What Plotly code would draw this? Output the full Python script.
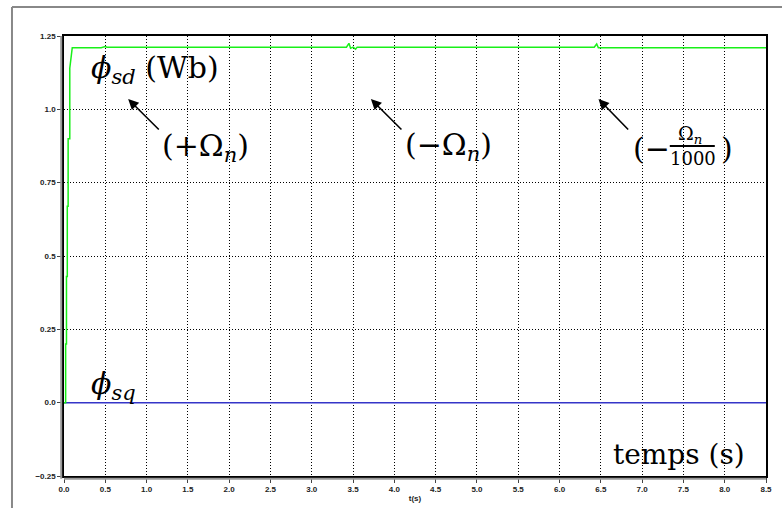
import plotly.graph_objects as go

# Data
t_sd = [0.0, 0.02, 0.02, 0.03, 0.03, 0.04, 0.04, 0.05, 0.05, 0.07, 0.07, 0.10, 0.45, 0.50, 0.52, 0.56, 3.42, 3.45, 3.47, 3.50, 3.53, 3.55, 3.58, 6.42, 6.45, 6.47, 8.5]
phi_sd = [0.0, 0.0, 0.20, 0.20, 0.43, 0.43, 0.67, 0.67, 0.90, 0.90, 1.14, 1.21, 1.21, 1.214, 1.212, 1.212, 1.212, 1.225, 1.208, 1.212, 1.205, 1.212, 1.212, 1.212, 1.223, 1.21, 1.21]
t_sq = [0.0, 8.5]
phi_sq = [0.0, 0.0]

x_ticks = [0.0, 0.5, 1.0, 1.5, 2.0, 2.5, 3.0, 3.5, 4.0, 4.5, 5.0, 5.5, 6.0, 6.5, 7.0, 7.5, 8.0, 8.5]
x_labels = ["%.1f" % v for v in x_ticks]
y_ticks = [-0.25, 0.0, 0.25, 0.5, 0.75, 1.0, 1.25]
y_labels = ["\u22120.25", "0.0", "0.25", "0.5", "0.75", "1.0", "1.25"]

fig = go.Figure()
fig.add_trace(go.Scatter(x=t_sq, y=phi_sq, mode="lines",
                         line=dict(color="#3535c8", width=1.5), showlegend=False))
fig.add_trace(go.Scatter(x=t_sd, y=phi_sd, mode="lines",
                         line=dict(color="#19f019", width=1.5), showlegend=False))

serif = "DejaVu Serif, Liberation Serif, serif"
FS = 30

def txt(x, y, s, size=FS, anchor="left"):
    fig.add_annotation(x=x, y=y, xref="x", yref="y", text=s, showarrow=False,
                       xanchor=anchor, yanchor="middle",
                       font=dict(family=serif, size=size, color="black"))

txt(0.30, 1.135, "<i>ϕ</i><sub><i>sd</i></sub> (Wb)")
txt(0.30, 0.06, "<i>ϕ</i><sub><i>sq</i></sub>")
txt(1.16, 0.87, "(+Ω<sub><i>n</i></sub>)")
txt(4.11, 0.875, "(\u2212Ω<sub><i>n</i></sub>)")
txt(6.86, 0.865, "(\u2212", anchor="left")
txt(7.58, 0.913, "Ω<sub><i>n</i></sub>", size=19, anchor="center")
txt(7.61, 0.832, "1000", size=18, anchor="center")
txt(7.93, 0.865, ")", anchor="left")
fig.add_shape(type="line", xref="x", yref="y", x0=7.335, x1=7.88, y0=0.875, y1=0.875,
              line=dict(color="black", width=1.8))
txt(8.27, -0.178, "temps (s)", size=28, anchor="right")

def arrow(hx, hy, tx, ty):
    fig.add_annotation(x=hx, y=hy, ax=tx, ay=ty, xref="x", yref="y", axref="x", ayref="y",
                       text="", showarrow=True, arrowhead=2, arrowsize=1.3,
                       arrowwidth=1.6, arrowcolor="black")

arrow(0.777, 1.035, 1.166, 0.926)
arrow(3.716, 1.035, 4.104, 0.926)
arrow(6.472, 1.035, 6.849, 0.926)

# outer frame and gray axis shadows
fig.add_shape(type="line", xref="paper", yref="paper", x0=-0.0741, x1=-0.0741, y0=-0.1, y1=1.066,
              line=dict(color="#888888", width=2))
fig.add_shape(type="line", xref="paper", yref="paper", x0=-0.0741, x1=1.1, y0=1.066, y1=1.066,
              line=dict(color="#888888", width=2))
fig.add_shape(type="line", xref="paper", yref="paper", x0=-0.004, x1=-0.004, y0=-0.006, y1=1.0,
              line=dict(color="#999999", width=2))
fig.add_shape(type="line", xref="paper", yref="paper", x0=0.0, x1=1.0, y0=-0.006, y1=-0.006,
              line=dict(color="#999999", width=2))

fig.update_xaxes(range=[0, 8.5], tickvals=x_ticks, ticktext=x_labels, automargin=False,
                 showgrid=True, gridcolor="black", griddash="1px,2px", gridwidth=1,
                 showline=True, linecolor="black", linewidth=1.5, mirror=True,
                 ticks="outside", ticklen=5, tickcolor="#444", zeroline=False,
                 tickfont=dict(family="Liberation Sans, Arial", size=8, color="#222", weight="bold"),
                 title=dict(text="t(s)", font=dict(family="Liberation Sans, Arial", size=8, color="#222", weight="bold"), standoff=2))
fig.update_yaxes(range=[-0.25, 1.25], tickvals=y_ticks, ticktext=y_labels, automargin=False,
                 showgrid=True, gridcolor="black", griddash="1px,2px", gridwidth=1,
                 showline=True, linecolor="black", linewidth=1.5, mirror=True,
                 ticks="outside", ticklen=5, tickcolor="#444", zeroline=False,
                 tickfont=dict(family="Liberation Sans, Arial", size=8, color="#222", weight="bold"))

fig.update_layout(width=782, height=508, margin=dict(l=64, r=16, t=36, b=32),
                  plot_bgcolor="white", paper_bgcolor="white", showlegend=False)

fig.write_html("out.html", config={"displayModeBar": False},
               post_script="document.body.style.margin='0';document.body.style.overflow='hidden';")
